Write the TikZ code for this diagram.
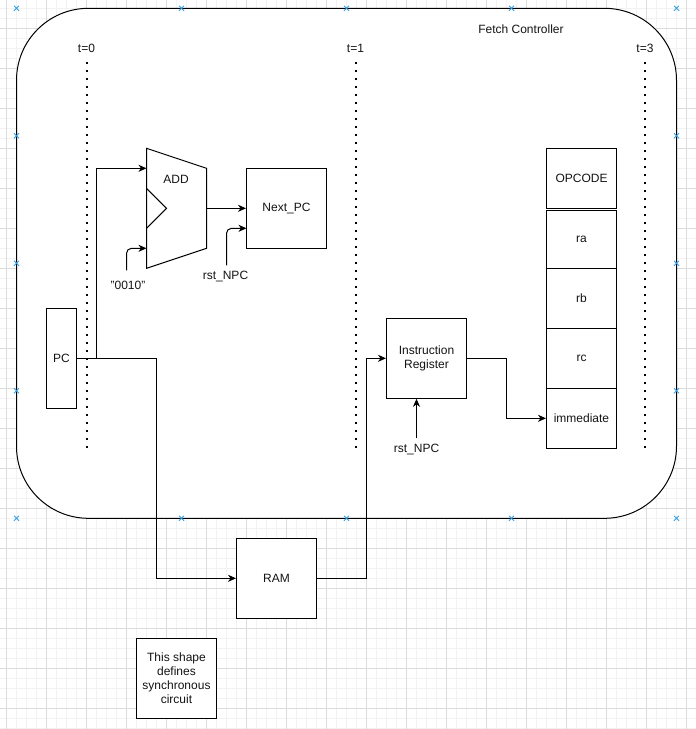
\documentclass[tikz,border=0pt]{standalone}
\usepackage{fontspec}
\setmainfont{Liberation Sans}
\usetikzlibrary{arrows.meta}
\definecolor{gridminor}{RGB}{242,242,242}
\definecolor{gridmajor}{RGB}{220,220,220}
\definecolor{handle}{RGB}{52,160,228}
\definecolor{ink}{RGB}{20,20,20}
\begin{document}
\begin{tikzpicture}[x=1pt,y=-1pt,shift={(6.5,8.3)},
  font=\fontsize{12}{14}\selectfont,
  box/.style={draw=black,fill=white,line width=1pt,inner sep=0pt,align=center,text=ink},
  lbl/.style={inner sep=0pt,align=center,text=ink},
  wire/.style={draw=black,line width=1pt},
  arr/.style={wire,-{Stealth[length=8pt,width=7pt,inset=2.5pt]}},
  tick/.style={draw=black,line width=2pt,dash pattern=on 2pt off 6pt},
  handlemark/.style={draw=handle,line width=0.8pt}]
\useasboundingbox (-6.5,-8.3) rectangle (689.5,720.7);
\fill[white] (-6.5,-8.3) rectangle (689.5,720.7);

% background grid: fine lines every 10, strong lines every 40
\foreach \k in {0,...,68} \draw[gridminor,line width=0.8pt] (\k*10,-8.3) -- (\k*10,720.7);
\foreach \k in {0,...,72} \draw[gridminor,line width=0.8pt] (-6.5,\k*10) -- (689.5,\k*10);
\foreach \k in {0,...,17} \draw[gridmajor,line width=0.8pt] (\k*40,-8.3) -- (\k*40,720.7);
\foreach \k in {0,...,17} \draw[gridmajor,line width=0.8pt] (-6.5,20+\k*40) -- (689.5,20+\k*40);

% synchronous region
\node[draw=black,fill=white,line width=1pt,rounded corners=72pt,
      minimum width=660pt,minimum height=510pt,inner sep=0pt] (fc) at (340,255) {};
\node[lbl] (fcname) at (514.5,20.7) {Fetch Controller};

% connection handles of the region
\foreach \px in {10,175,340,505,670}
  \foreach \py in {0,510}
    \draw[handlemark] (\px-2.5,\py-2.5) -- (\px+2.5,\py+2.5) (\px-2.5,\py+2.5) -- (\px+2.5,\py-2.5);
\foreach \px in {10,670}
  \foreach \py in {127.5,255,382.5}
    \draw[handlemark] (\px-2.5,\py-2.5) -- (\px+2.5,\py+2.5) (\px-2.5,\py+2.5) -- (\px+2.5,\py-2.5);

% clock edges
\node[lbl] (t0) at (80,40) {t=0};
\node[lbl] (t1) at (349,40) {t=1};
\node[lbl] (t3) at (638.5,40) {t=3};
\draw[tick] (80,54) -- (80,441);
\draw[tick] (349,54) -- (349,441);
\draw[tick] (638.5,54) -- (638.5,441);

% adder
\draw[fill=white,line width=1pt] (140,140) -- (200,160) -- (200,240) -- (140,260) -- cycle;
\draw[line width=1pt] (140,180) -- (160,200) -- (140,220);
\node[lbl] (addname) at (169.5,170.7) {ADD};
\coordinate (addinA) at (140,160);
\coordinate (addinB) at (140,240);
\coordinate (addout) at (200,200);

% registers and memory
\node[box,minimum width=30pt,minimum height=100pt] (pc) at (55,350) {PC};
\node[box,minimum width=80pt,minimum height=80pt] (npc) at (280,200) {Next\_PC};
\node[box,minimum width=80pt,minimum height=80pt] (ir) at (420,350) {Instruction\\Register};
\node[box,minimum width=80pt,minimum height=80pt] (ram) at (270,570) {RAM};
\node[box,minimum width=80pt,minimum height=80pt] (note) at (170,670) {This shape\\defines\\synchronous\\circuit};

% instruction fields
\node[box,minimum width=70pt,minimum height=60pt] (opc) at (575,170) {OPCODE};
\node[box,minimum width=70pt,minimum height=58.3pt] (ra) at (575,230.85) {ra};
\node[box,minimum width=70pt,minimum height=60pt] (rb) at (575,290) {rb};
\node[box,minimum width=70pt,minimum height=60pt] (rc) at (575,350) {rc};
\node[box,minimum width=70pt,minimum height=60pt] (imm) at (575,410) {immediate};

% constant and reset inputs
\node[lbl] (four) at (121.5,277.5) {"0010"};
\coordinate (fourtop) at (120,262);
\node[lbl] (rstA) at (219,268.5) {rst\_NPC};
\coordinate (rstAtop) at (220,257);
\coordinate (npcinB) at (240,220);
\node[lbl] (rstB) at (410,441) {rst\_NPC};
\coordinate (rstBtop) at (410,430);

% connectors
\draw[arr] (pc.east) -- (90,350) |- (addinA);
\draw[arr] (pc.east) -- (150,350) |- (ram.west);
\draw[arr,rounded corners=5pt] (fourtop) |- (addinB);
\draw[arr] (addout) -- (npc.west);
\draw[arr,rounded corners=5pt] (rstAtop) |- (npcinB);
\draw[arr] (ram.east) -- (360,570) |- (ir.west);
\draw[arr] (rstBtop) -- ([xshift=-10pt]ir.south);
\draw[arr] (ir.east) -- (500,350) |- (imm.west);
\end{tikzpicture}
\end{document}
